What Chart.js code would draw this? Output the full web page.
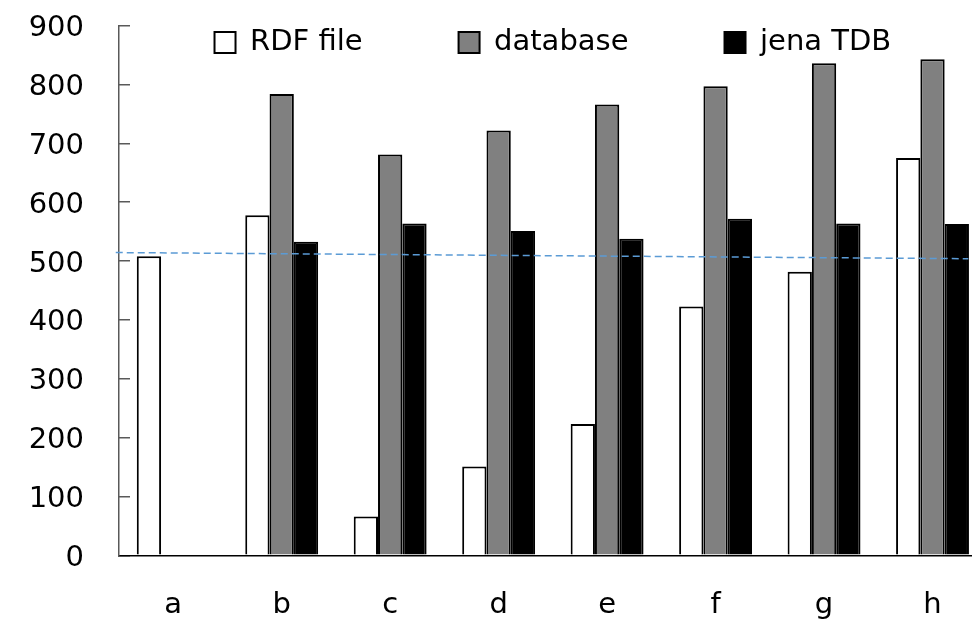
<!DOCTYPE html>
<html>
<head>
<meta charset="utf-8">
<script src="https://cdn.jsdelivr.net/npm/chart.js@4/dist/chart.umd.min.js"></script>
<style>
  html, body { margin: 0; padding: 0; background: #fff; overflow: hidden; width: 972px; height: 620px; }
  #wrap { width: 990px; height: 620px; }
  canvas { display: block; }
</style>
</head>
<body>
<div id="wrap"><canvas id="c" width="990" height="620"></canvas></div>
<script>
// ---- data ----
const categories = ['a', 'b', 'c', 'd', 'e', 'f', 'g', 'h'];
const seriesNames = ['RDF file', 'database', 'jena TDB'];
const rdfFile  = [508, 578, 66, 151, 223, 423, 482, 675];
const database = [null, 784, 681, 722, 766, 797, 836, 843];
const jenaTDB  = [null, 533, 564, 551, 538, 572, 564, 563];
// dashed reference line (x in category-index units, y in value units)
const refLineX = [-0.53, 7.33];
const refLineY = [514.5, 504];
const yTicks = [0, 100, 200, 300, 400, 500, 600, 700, 800, 900];

const FONT = "'DejaVu Sans'";
const LEGEND_PAD = 96;

const toXY = (arr) => arr.map((v, i) => ({x: i, y: v}));

// keep the legend on one row, drawn inside the plot area near its top
const legendPlacer = {
  id: 'legendPlacer',
  afterLayout(chart) {
    const lg = chart.legend;
    if (!lg) return;
    const ca = chart.chartArea;
    lg.update(5000, 1000, {left: 0, top: 0, right: 0, bottom: 0});
    lg.left = ca.left - 2000; lg.right = ca.right + 2000; lg.width = lg.right - lg.left;
    lg.top = 28 - LEGEND_PAD;
    lg.height = 300;
    lg.bottom = lg.top + lg.height;
  }
};

new Chart(document.getElementById('c'), {
  type: 'bar',
  data: {
    datasets: [
      { label: seriesNames[0], data: toXY(rdfFile),  backgroundColor: '#ffffff', borderColor: '#000000', borderWidth: 2, order: 1 },
      { label: seriesNames[1], data: toXY(database), backgroundColor: '#808080', borderColor: '#000000', borderWidth: 2, order: 1 },
      { label: seriesNames[2], data: toXY(jenaTDB),  backgroundColor: '#000000', borderColor: '#000000', borderWidth: 2, order: 1 },
      {
        type: 'line', label: 'ref', order: 0, clip: false,
        data: refLineX.map((x, i) => ({x: x, y: refLineY[i]})),
        borderColor: '#5b9bd5', borderWidth: 1.5, borderDash: [7, 4],
        pointRadius: 0, fill: false, tension: 0
      }
    ]
  },
  options: {
    responsive: false,
    animation: false,
    devicePixelRatio: 1,
    layout: { padding: { top: 24.7, right: 3.25, bottom: 0, left: 0 } },
    datasets: { bar: { barPercentage: 1, categoryPercentage: 0.672 } },
    plugins: {
      tooltip: { enabled: false },
      title: { display: false },
      legend: {
        display: true,
        position: 'top',
        align: 'center',
        maxHeight: 1,
        labels: {
          filter: (item) => item.datasetIndex < 3,
          boxWidth: 21, boxHeight: 21,
          padding: LEGEND_PAD,
          color: '#000',
          font: { family: FONT, size: 29 }
        }
      }
    },
    scales: {
      x: {
        type: 'linear',
        min: -0.5, max: 7.5,
        offset: false,
        afterBuildTicks: (s) => { s.ticks = categories.map((c, i) => ({value: i})); },
        grid: { display: false },
        border: { display: true, color: '#000000', width: 1.5 },
        ticks: {
          color: '#000', font: { family: FONT, size: 29 }, padding: 25,
          maxRotation: 0, autoSkip: false,
          callback: (v) => categories[v]
        },
        afterFit: (s) => { s.height = 64.7; s.paddingLeft = 0; s.paddingRight = 0; }
      },
      y: {
        min: 0, max: 900,
        afterBuildTicks: (s) => { s.ticks = yTicks.map(v => ({value: v})); },
        grid: { drawOnChartArea: false, drawTicks: true, tickLength: -11, color: '#595959', lineWidth: 1.5 },
        border: { display: true, color: '#595959', width: 1.5 },
        ticks: { color: '#000', font: { family: FONT, size: 29 }, padding: 46, labelOffset: 3 },
        afterFit: (s) => { s.width = 119; s.paddingTop = 0; s.paddingBottom = 0; }
      }
    }
  },
  plugins: [legendPlacer]
});
</script>
</body>
</html>
